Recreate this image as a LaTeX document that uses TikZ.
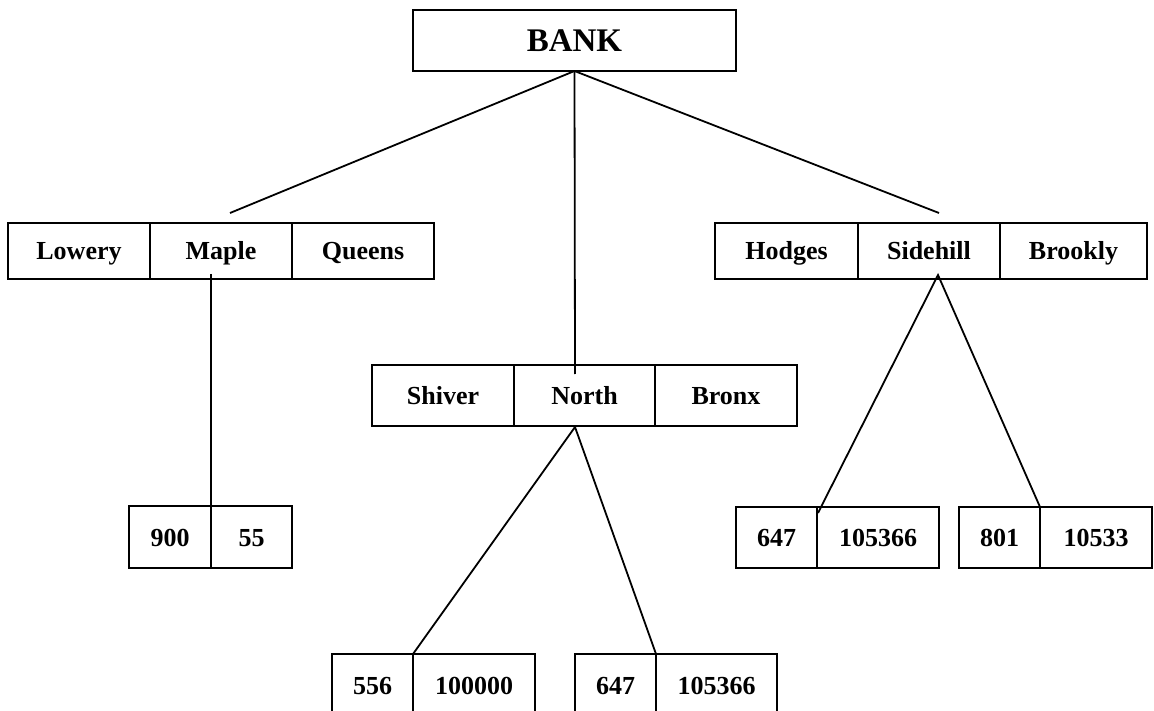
\documentclass[tikz,border=0pt]{standalone}
\usepackage{fontspec}
\setmainfont{Liberation Serif}
\usetikzlibrary{positioning}

\tikzset{
  cell/.style={draw, rectangle, line width=2pt, outer sep=0pt, inner sep=0pt, text height=19pt, text depth=1pt, font=\fontsize{26}{30}\selectfont\bfseries},
  link/.style={line width=1.8pt},
}

\begin{document}
\begin{tikzpicture}[x=1pt, y=-1pt]
    \useasboundingbox (0,0) rectangle (1154,711);

    % root
    \node (bank) [cell, minimum width=323pt, minimum height=61pt, text height=23pt, text depth=0pt, font=\fontsize{33}{38}\selectfont\bfseries] at (574.5,40.5) {BANK};

    % branch level
    \node (lowery) [cell, minimum width=142pt, minimum height=56pt] at (79,251) {Lowery};
    \node (maple) [cell, right=0pt of lowery, minimum width=142pt, minimum height=56pt] {Maple};
    \node (queens) [cell, right=0pt of maple, minimum width=142pt, minimum height=56pt] {Queens};

    \node (shiver) [cell, minimum width=142pt, minimum height=61pt] at (443,395.5) {Shiver};
    \node (north) [cell, right=0pt of shiver, minimum width=141pt, minimum height=61pt] {North};
    \node (bronx) [cell, right=0pt of north, minimum width=142pt, minimum height=61pt] {Bronx};

    \node (hodges) [cell, minimum width=143pt, minimum height=56pt] at (786.5,251) {Hodges};
    \node (sidehill) [cell, right=0pt of hodges, minimum width=142pt, minimum height=56pt] {Sidehill};
    \node (brookly) [cell, right=0pt of sidehill, minimum width=147pt, minimum height=56pt] {Brookly};

    % account level
    \node (n900) [cell, minimum width=82pt, minimum height=62pt] at (170,537) {900};
    \node (n55) [cell, right=0pt of n900, minimum width=81pt, minimum height=62pt] {55};

    \node (b556) [cell, minimum width=81pt, minimum height=62pt] at (372.5,685) {556};
    \node (b100000) [cell, right=0pt of b556, minimum width=122pt, minimum height=62pt] {100000};
    \node (b647) [cell, minimum width=81pt, minimum height=62pt] at (615.5,685) {647};
    \node (b105366) [cell, right=0pt of b647, minimum width=121pt, minimum height=62pt] {105366};

    \node (r647) [cell, minimum width=81pt, minimum height=61pt] at (776.5,537.5) {647};
    \node (r105366) [cell, right=0pt of r647, minimum width=122pt, minimum height=61pt] {105366};
    \node (r801) [cell, minimum width=81pt, minimum height=61pt] at (999.5,537.5) {801};
    \node (r10533) [cell, right=0pt of r801, minimum width=112pt, minimum height=61pt] {10533};

    % free ends of the links
    \coordinate (bankL) at (230,213);
    \coordinate (bankR) at (939,213);
    \coordinate (northTop) at (575,374);
    \coordinate (mapleFoot) at (211,274);
    \coordinate (northFoot) at (575,427);
    \coordinate (sideFoot) at (938,275);
    \coordinate (sideL) at (818,513);

    \draw[link] (bank.south) -- (bankL);
    \draw[link] (bank.south) -- (northTop);
    \draw[link] (bank.south) -- (bankR);
    \draw[link] (mapleFoot) -- (n900.north east);
    \draw[link] (b556.north east) -- (northFoot) -- (b647.north east);
    \draw[link] (sideL) -- (sideFoot) -- (r801.north east);
\end{tikzpicture}
\end{document}
